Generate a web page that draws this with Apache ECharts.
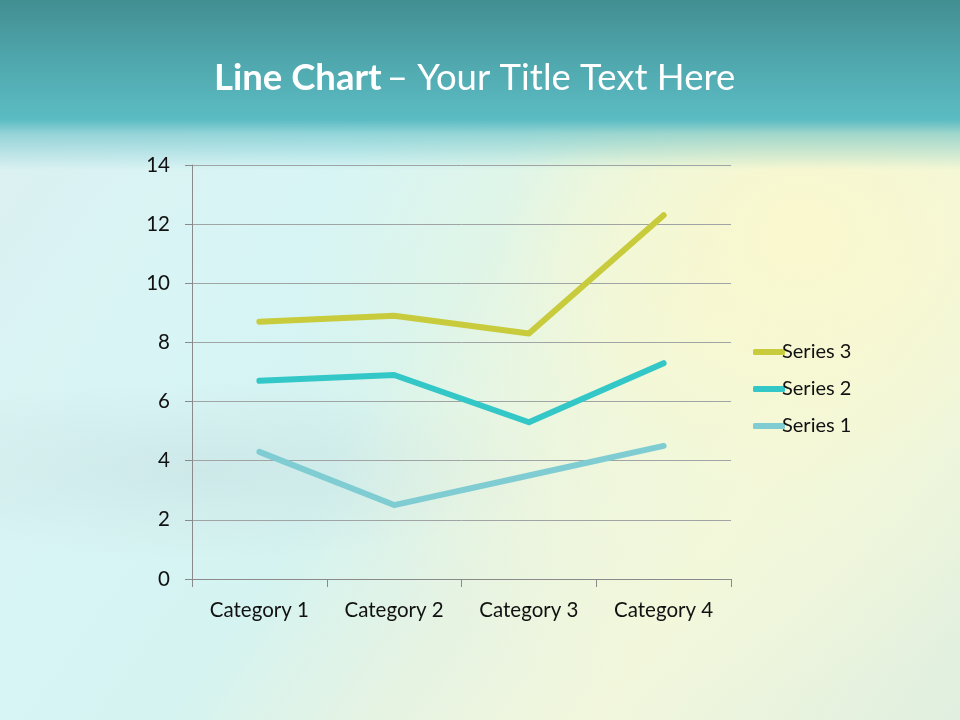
<!DOCTYPE html>
<html>
<head>
<meta charset="utf-8">
<script src="https://cdn.jsdelivr.net/npm/echarts@6/dist/echarts.min.js"></script>
<style>
html,body{margin:0;padding:0;width:960px;height:720px;overflow:hidden;}
body{
  background:
    linear-gradient(180deg,#428e91 0px,#4fa7ad 60px,#5cbcc3 120px,rgba(92,188,195,0.55) 134px,rgba(200,235,238,0) 170px),
    radial-gradient(ellipse 300px 260px at 800px 230px,rgba(250,248,205,0.95),rgba(250,248,205,0) 100%),
    radial-gradient(ellipse 420px 380px at 720px 330px,rgba(245,249,215,0.9),rgba(245,249,215,0) 100%),
    radial-gradient(ellipse 360px 90px at 200px 470px,rgba(190,210,212,0.35),rgba(190,210,212,0) 100%),
    linear-gradient(125deg,#dceff1 0%,#d8f5f5 30%,#d4f3f1 45%,#e6f3e3 60%,#f2f7dc 75%,#e0efe0 100%);
}
#c{width:960px;height:720px;position:absolute;left:0;top:0;}
</style>
</head>
<body>
<div id="c"></div>
<script>
const categories = ['Category 1','Category 2','Category 3','Category 4'];
const series1 = [4.3, 2.5, 3.5, 4.5];
const series2 = [2.4, 4.4, 1.8, 2.8];
const series3 = [2, 2, 3, 5];
const yTicks = [0,2,4,6,8,10,12,14];

const chart = echarts.init(document.getElementById('c'), null, {renderer:'canvas'});
const font = 'Lato, "Open Sans", sans-serif';
chart.setOption({
  backgroundColor:'transparent',
  title:{
    text:'{b|Line Chart} {n|– Your Title Text Here}',
    left:209, top:55,
    textStyle:{
      rich:{
        b:{fontFamily:font,fontWeight:'bold',fontSize:36.5,color:'#ffffff'},
        n:{fontFamily:font,fontWeight:'normal',fontSize:36.5,color:'#ffffff'}
      }
    }
  },
  legend:{
    orient:'vertical', left:748, top:337, itemGap:17,
    itemWidth:32, itemHeight:6,
    icon:'roundRect',
    data:['Series 3','Series 2','Series 1'],
    textStyle:{fontFamily:font,fontSize:20,color:'#111',padding:[0,0,0,-8]}
  },
  grid:{left:192,right:229,top:165,bottom:141,containLabel:false},
  xAxis:{
    type:'category', data:categories, boundaryGap:true,
    axisLine:{lineStyle:{color:'#8a8a8a',width:1}},
    axisTick:{show:true,length:8,interval:0,lineStyle:{color:'#8a8a8a'}},
    axisLabel:{fontFamily:font,fontSize:20.5,color:'#111',margin:21}
  },
  yAxis:{
    type:'value', min:yTicks[0], max:yTicks[yTicks.length-1], interval:2,
    axisLine:{show:true,lineStyle:{color:'#8a8a8a',width:1}},
    axisTick:{show:true,length:7,lineStyle:{color:'#8a8a8a'}},
    splitLine:{lineStyle:{color:'#a0a4a4',width:1}},
    axisLabel:{fontFamily:font,fontSize:20.5,color:'#111',margin:22}
  },
  series:[
    {name:'Series 1',type:'line',stack:'total',data:series1,symbol:'none',
      lineStyle:{width:6,color:'#7fcdd2',cap:'round',join:'round'},itemStyle:{color:'#7fcdd2'}},
    {name:'Series 2',type:'line',stack:'total',data:series2,symbol:'none',
      lineStyle:{width:6,color:'#33c7c7',cap:'round',join:'round'},itemStyle:{color:'#33c7c7'}},
    {name:'Series 3',type:'line',stack:'total',data:series3,symbol:'none',
      lineStyle:{width:6,color:'#c8cb3c',cap:'round',join:'round'},itemStyle:{color:'#c8cb3c'}}
  ]
});
</script>
</body>
</html>
